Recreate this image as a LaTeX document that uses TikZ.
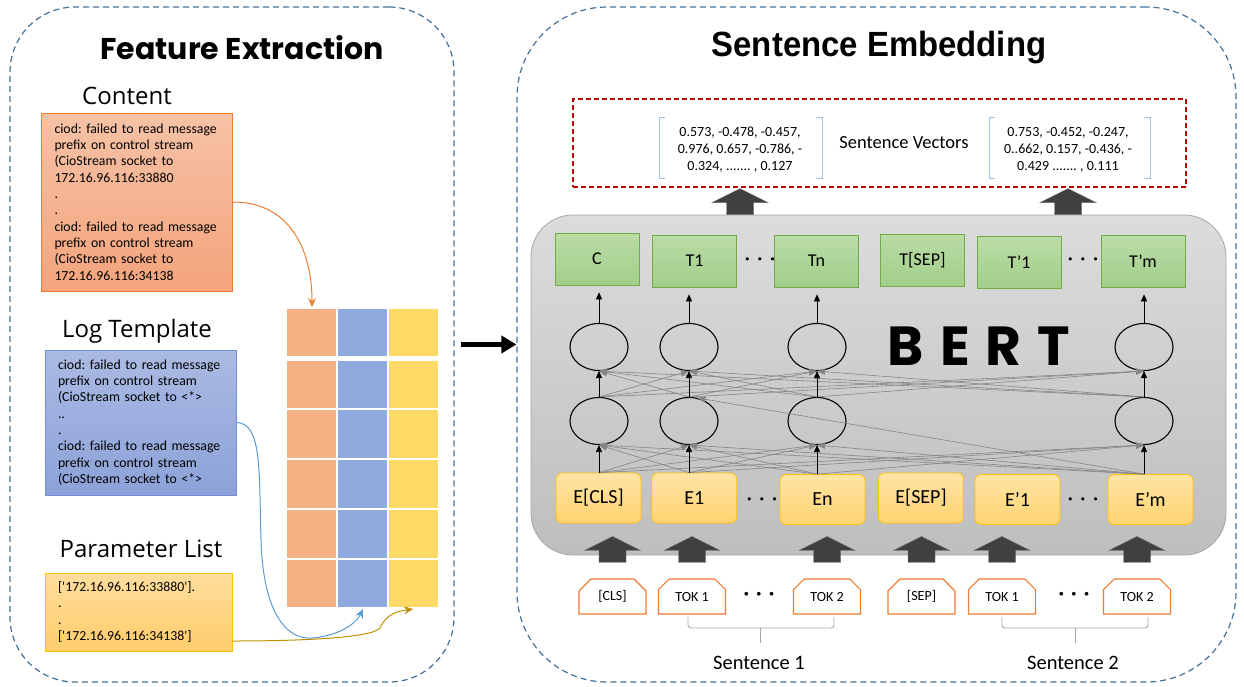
\documentclass[tikz,border=0pt]{standalone}
\usepackage{graphicx}
\usepackage{fontspec}
\setmainfont{Carlito}
\newfontfamily\boxfont{Carlito}
\newfontfamily\headfont{Open Sans}
\newfontfamily\featfont{Poppins}
\newfontfamily\embfont{Liberation Sans}
\usetikzlibrary{arrows.meta,shapes.geometric,shapes.misc}
\frenchspacing

\definecolor{panelblue}{HTML}{41719C}
\definecolor{cntfill1}{HTML}{F6C2A6}
\definecolor{cntfill2}{HTML}{F4A47C}
\definecolor{cntline}{HTML}{ED7D31}
\definecolor{tplfill1}{HTML}{AABAE2}
\definecolor{tplfill2}{HTML}{8CA2D8}
\definecolor{tplline}{HTML}{7190D2}
\definecolor{parfill1}{HTML}{FFDD9E}
\definecolor{parfill2}{HTML}{FFCD6A}
\definecolor{parline}{HTML}{FFC000}
\definecolor{gridorange}{HTML}{F4B183}
\definecolor{gridblue}{HTML}{8FAADC}
\definecolor{gridyellow}{HTML}{FFD966}
\definecolor{arrblue}{HTML}{5B9BD5}
\definecolor{arrgold}{HTML}{BF9000}
\definecolor{vecred}{HTML}{C00000}
\definecolor{brkblue}{HTML}{9DC3E6}
\definecolor{bertgray1}{HTML}{DCDCDC}
\definecolor{bertgray2}{HTML}{BEBEBE}
\definecolor{bertline}{HTML}{A6A6A6}
\definecolor{tgreen1}{HTML}{BADCA6}
\definecolor{tgreen2}{HTML}{A2CE8A}
\definecolor{tgreenline}{HTML}{70AD47}
\definecolor{eyellow1}{HTML}{FFE4A6}
\definecolor{eyellow2}{HTML}{FFD470}
\definecolor{eborder}{HTML}{FFC000}
\definecolor{blockgray}{HTML}{404040}
\definecolor{linkgray}{HTML}{858585}

\tikzset{
  panel/.style={draw=panelblue, line width=1.2pt, dash pattern=on 6pt off 4pt, minimum height=675, inner sep=0},
  title/.style={inner sep=0},
  head/.style={inner sep=0, font=\headfont\fontsize{24}{24}\selectfont},
  logbox/.style={line width=0.9pt, inner xsep=13pt, align=left, font=\boxfont\fontsize{13.8}{16.3}\selectfont},
  curvy/.style={line width=1pt, -{Stealth[length=9pt,width=8pt]}},
  bigarr/.style={line width=4.5pt, -{Triangle[length=15pt,width=17pt]}, shorten <=6pt},
  vecbox/.style={draw=vecred, line width=1.2pt, dash pattern=on 5pt off 3pt, minimum width=613, minimum height=88},
  vec/.style={align=center, inner sep=0, font=\fontsize{14}{17}\selectfont},
  brk/.style={draw=brkblue, line width=1pt},
  bertbox/.style={draw=bertline, line width=0.8pt, rounded corners=42, top color=bertgray1, bottom color=bertgray2, minimum width=695, minimum height=340},
  tbox/.style={draw=tgreenline, line width=0.7pt, top color=tgreen1, bottom color=tgreen2, minimum width=84, minimum height=52, font=\fontsize{18}{18}\selectfont},
  ebox/.style={draw=eborder, line width=0.7pt, rounded corners=6, top color=eyellow1, bottom color=eyellow2, minimum width=85, minimum height=50, font=\fontsize{20}{20}\selectfont},
  unit/.style={ellipse, draw=black, line width=1.1pt, minimum width=58, minimum height=47, inner sep=0},
  tok/.style={chamfered rectangle, chamfered rectangle corners={north west, north east}, chamfered rectangle xsep=6pt, chamfered rectangle ysep=6pt, draw=cntline, line width=1.1pt, fill=white, minimum width=67, minimum height=35, inner sep=0, font=\fontsize{14}{14}\selectfont},
  dots/.style={inner sep=0, font=\fontsize{22}{22}\selectfont},
  lbl/.style={inner sep=0, font=\fontsize{20.5}{20.5}\selectfont},
  brace/.style={draw=bertline, line width=0.9pt, rounded corners=3},
  link/.style={draw=linkgray, line width=0.6pt, -{Triangle[length=8pt,width=6pt]}},
  up/.style={draw=black, line width=0.7pt, -{Triangle[length=7pt,width=6pt]}},
  upblock/.pic={\filldraw[fill=blockgray, draw=black!55, line width=0.4pt] (-13.5,0) -- (-13.5,-12) -- (-28,-12) -- (0,-26) -- (28,-12) -- (13.5,-12) -- (13.5,0) -- cycle;}
}

\begin{document}
\begin{tikzpicture}[x=1pt,y=-1pt]
  \useasboundingbox (0,0) rectangle (1244,686);

  % the two panels
  \node[panel, rounded corners=65, minimum width=444] (fe) at (232,344.5) {};
  \node[panel, rounded corners=90, minimum width=719] (se) at (876.5,344.5) {};
  \node[title] (fet) at (242,48) {\featfont\bfseries\fontsize{30}{30}\selectfont Feature Extraction};
  \node[title] (set) at (879,48) {\embfont\bfseries\fontsize{35}{35}\selectfont\scalebox{0.94}[1]{Sentence Embedding}};
  \draw[bigarr] (fe.east) -- (se.west);

  % feature extraction
  \node[head] (cnth) at (127,96) {Content};
  \node[logbox, draw=cntline, top color=cntfill1, bottom color=cntfill2, text width=165, minimum height=178] (cnt) at (137,202)
    {ciod: failed to read message\\prefix on control stream\\(CioStream socket to\\172.16.96.116:33880\\.\\.\\ciod: failed to read message\\prefix on control stream\\(CioStream socket to\\172.16.96.116:34138};
  \node[head] (tplh) at (137,331) {Log Template};
  \node[logbox, draw=tplline, top color=tplfill1, bottom color=tplfill2, text width=165, minimum height=145] (tpl) at (140.5,422.5)
    {ciod: failed to read message\\prefix on control stream\\(CioStream socket to <*>\\..\\.\\ciod: failed to read message\\prefix on control stream\\(CioStream socket to <*>};
  \node[head] (parh) at (141,549) {Parameter List};
  \node[logbox, draw=parline, top color=parfill1, bottom color=parfill2, text width=161, minimum height=78] (par) at (138.5,612)
    {{}['172.16.96.116:33880'].\\.\\.\\{}['172.16.96.116:34138']};

  % feature matrix
  \fill[gridorange] (287,309) rectangle (337,356);
  \fill[gridblue] (337,309) rectangle (388,356);
  \fill[gridyellow] (388,309) rectangle (438,356);
  \fill[gridorange] (287,361) rectangle (337,607);
  \fill[gridblue] (337,361) rectangle (388,607);
  \fill[gridyellow] (388,361) rectangle (438,607);
  \draw[white, line width=2pt] (337,309) -- (337,356) (388,309) -- (388,356)
    (337,361) -- (337,607) (388,361) -- (388,607)
    (287,408.5) -- (438,408.5) (287,458.5) -- (438,458.5)
    (287,508.5) -- (438,508.5) (287,558.5) -- (438,558.5);
  \coordinate (gtop) at (312,307);
  \coordinate (gblue) at (363,609);
  \coordinate (ggold) at (413,609);
  \draw[curvy, cntline] (cnt.east) .. controls (290,202) and (312,250) .. (gtop);
  \draw[curvy, arrblue] (tpl.east) .. controls (262,423) and (259,470) .. (261,540)
    .. controls (263,610) and (285,640) .. (312,638) .. controls (338,636) and (356,624) .. (gblue);
  \draw[curvy, arrgold] ([yshift=-29pt]par.east) .. controls (300,641) and (372,638) .. (380,628)
    .. controls (386,614) and (398,611) .. (ggold);

  % sentence vectors
  \node[vecbox] (vb) at (879.5,143) {};
  \node[vec] (v1) at (740,150) {0.573, -0.478, -0.457,\\0.976, 0.657, -0.786, -\\0.324, ....... , 0.127};
  \node[vec] (v2) at (1068,150) {0.753, -0.452, -0.247,\\0..662, 0.157, -0.436, -\\0.429 ....... , 0.111};
  \node[inner sep=0, font=\fontsize{18.5}{18.5}\selectfont] (sv) at (904,143) {Sentence Vectors};
  \draw[brk] (665,117) -| (659,178) -- (665,178);
  \draw[brk] (816,117) -| (822,178) -- (816,178);
  \draw[brk] (995,117) -| (989,178) -- (995,178);
  \draw[brk] (1144,117) -| (1150,178) -- (1144,178);

  % BERT block
  \node[bertbox] (bert) at (878.5,385) {};
  \pic at (v1 |- bert.north) {upblock};
  \pic at (v2 |- bert.north) {upblock};
  \node[inner sep=0, font=\featfont\bfseries\fontsize{55}{55}\selectfont] (bertl) at (979,346) {B\hspace{16pt}E\hspace{16pt}R\hspace{16pt}T};

  \node[tbox] (tc) at (597,259) {C};
  \node[tbox] (t1) at (694.5,261) {T1};
  \node[tbox] (tn) at (816.5,261) {Tn};
  \node[tbox] (tsep) at (922.5,260) {T[SEP]};
  \node[tbox] (tp1) at (1019,262.5) {T’1};
  \node[tbox] (tpm) at (1143,261) {T’m};
  \node[dots] (dt1) at (760,262) {·\hspace{7pt}·\hspace{7pt}·};
  \node[dots] (dt2) at (1083,262) {·\hspace{7pt}·\hspace{7pt}·};

  \node[unit] (u1) at (599,347) {};
  \node[unit] (u2) at (689,347) {};
  \node[unit] (u3) at (817,347) {};
  \node[unit] (u4) at (1144,347) {};
  \node[unit] (l1) at (599,421) {};
  \node[unit] (l2) at (689,421) {};
  \node[unit] (l3) at (817,421) {};
  \node[unit] (l4) at (1144,421) {};

  \node[ebox] (ecls) at (598.5,498) {E[CLS]};
  \node[ebox] (e1) at (694.3,498) {E1};
  \node[ebox] (en) at (822.5,499.5) {En};
  \node[ebox] (esep) at (921,498) {E[SEP]};
  \node[ebox] (ep1) at (1017.5,499.5) {E’1};
  \node[ebox] (epm) at (1150.5,499.5) {E’m};
  \node[dots] (de1) at (762,502) {·\hspace{7pt}·\hspace{7pt}·};
  \node[dots] (de2) at (1083,502) {·\hspace{7pt}·\hspace{7pt}·};

  \coordinate (b1) at (l1 |- ecls.north);
  \coordinate (b2) at (l2 |- e1.north);
  \coordinate (b3) at (l3 |- en.north);
  \coordinate (b4) at (l4 |- epm.north);

  \begin{scope}[link]
    \draw (b1) -- (l2.south);
    \draw (b1) -- (l3.south);
    \draw (b1) -- (l4.south);
    \draw (b2) -- (l1.south);
    \draw (b2) -- (l3.south);
    \draw (b2) -- (l4.south);
    \draw (b3) -- (l1.south);
    \draw (b3) -- (l2.south);
    \draw (b3) -- (l4.south);
    \draw (b4) -- (l1.south);
    \draw (b4) -- (l2.south);
    \draw (b4) -- (l3.south);
    \draw (b4) -- (l2.70);
    \draw (l1.north) -- (u2.south);
    \draw (l1.north) -- (u3.south);
    \draw (l1.north) -- (u4.south);
    \draw (l2.north) -- (u1.south);
    \draw (l2.north) -- (u3.south);
    \draw (l2.north) -- (u4.south);
    \draw (l3.north) -- (u1.south);
    \draw (l3.north) -- (u2.south);
    \draw (l3.north) -- (u4.south);
    \draw (l4.north) -- (u1.south);
    \draw (l4.north) -- (u2.south);
    \draw (l4.north) -- (u3.south);
  \end{scope}
  \begin{scope}[up]
    \draw (b1) -- (l1.south);
    \draw (b2) -- (l2.south);
    \draw (b3) -- (l3.south);
    \draw (b4) -- (l4.south);
    \draw (l1.north) -- (u1.south);
    \draw (l2.north) -- (u2.south);
    \draw (l3.north) -- (u3.south);
    \draw (l4.north) -- (u4.south);
    \draw[shorten >=7pt] (u1.north) -- (u1 |- tc.south);
    \draw[shorten >=7pt] (u2.north) -- (u2 |- t1.south);
    \draw[shorten >=7pt] (u3.north) -- (u3 |- tn.south);
    \draw[shorten >=7pt] (u4.north) -- (u4 |- tpm.south);
  \end{scope}

  % input tokens
  \node[tok] (kcls) at (612.5,596.5) {[CLS]};
  \node[tok] (ka1) at (692,596.5) {TOK 1};
  \node[tok] (ka2) at (827,596.5) {TOK 2};
  \node[tok] (ksep) at (921.5,596.5) {[SEP]};
  \node[tok] (kb1) at (1002,596.5) {TOK 1};
  \node[tok] (kb2) at (1137,596.5) {TOK 2};
  \node[dots, font=\fontsize{26}{26}\selectfont] (dk1) at (759,597) {·\hspace{6pt}·\hspace{6pt}·};
  \node[dots, font=\fontsize{26}{26}\selectfont] (dk2) at (1074,597) {·\hspace{6pt}·\hspace{6pt}·};
  \pic at ([yshift=16pt]kcls.north) {upblock};
  \pic at ([yshift=16pt]ka1.north) {upblock};
  \pic at ([yshift=16pt]ka2.north) {upblock};
  \pic at ([yshift=16pt]ksep.north) {upblock};
  \pic at ([yshift=16pt]kb1.north) {upblock};
  \pic at ([yshift=16pt]kb2.north) {upblock};

  % sentence braces
  \draw[brace] (688,617) |- (834,628) -- (834,617);
  \draw[brace] (760,628) -- (760,643);
  \draw[brace] (1002,617) |- (1148,628) -- (1148,617);
  \draw[brace] (1075,628) -- (1075,643);
  \node[lbl] (s1) at (759,663) {Sentence 1};
  \node[lbl] (s2) at (1073,663) {Sentence 2};
\end{tikzpicture}
\end{document}
